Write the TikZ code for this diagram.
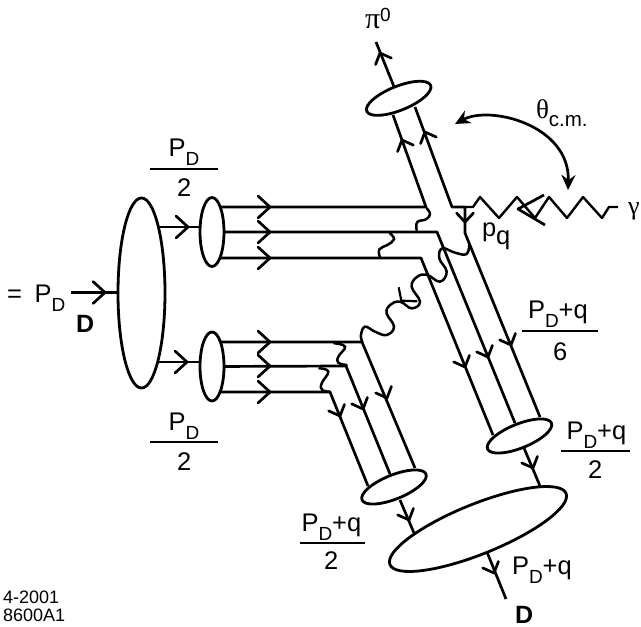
\documentclass[tikz,border=0pt]{standalone}
\usepackage{fontspec}
\setmainfont{Liberation Sans}
\newfontfamily\grk{Liberation Serif}
\usetikzlibrary{shapes.geometric,arrows.meta,backgrounds}
\newcommand{\mainf}{\fontsize{25.5}{28}\selectfont}
\newcommand{\subf}{\fontsize{19}{20}\selectfont}
\newcommand{\PDx}{P\raisebox{-9pt}{\subf D}}
\newcommand{\PDq}{\PDx+q}
\tikzset{
  x=1pt,y=-1pt,
  ln/.style={line width=2.7pt,line cap=butt,line join=round},
  wig/.style={line width=2.5pt,line cap=round},
  blob/.style={draw,fill=white,ellipse,inner sep=0pt,outer sep=0pt,line width=2.8pt},
  vert/.style={blob,minimum width=24pt,minimum height=69pt},
  tilt/.style={blob,minimum width=69pt,minimum height=24pt,rotate=22},
  lab/.style={anchor=base west,inner sep=0pt,outer sep=0pt,font=\mainf},
  bar/.style={line width=2.7pt},
  chevron/.pic={\draw[ln,line cap=round,miter limit=10] (-12,-11)--(0,0)--(-12,11);},
  chevsmall/.pic={\draw[ln,line cap=round,miter limit=10] (-9,-8.5)--(0,0)--(-9,8.5);}
}
\begin{document}
\begin{tikzpicture}
\useasboundingbox (0,0) rectangle (641,627);
% blobs
\node[blob,minimum width=47pt,minimum height=190pt] (D1) at (141.5,293) {};
\node[vert] (U1) at (212,232) {};
\node[vert] (U2) at (212,366.5) {};
\node[tilt] (M1) at (398.7,98.3) {};
\node[tilt] (M2) at (519.5,436) {};
\node[tilt] (M3) at (394,487) {};
\node[blob,minimum width=190pt,minimum height=50pt,rotate=22] (D2) at (478,529) {};
% endpoints
\coordinate (inp) at (71,292.5);
\coordinate (pio) at (376,42);
\coordinate (fin) at (506,599);
\coordinate (gam) at (618,207);
\coordinate (b1) at (426,207);
\coordinate (b2) at (452,207);
\coordinate (b3) at (465,207);
\coordinate (b4) at (465,233);
\coordinate (c1) at (437,232);
\coordinate (c2) at (421,258);
\coordinate (d1) at (362,342);
\coordinate (d2) at (346,366);
\coordinate (d3) at (330,392);
\begin{scope}[on background layer]
\draw[ln] (inp) -- (D1.center |- inp);
\draw[ln] (141,227) -- (212,227);
\draw[ln] (141,362) -- (212,362);
\draw[ln] (M1) -- (pio);
\draw[ln] (524,448) -- (540,486);
\draw[ln] (400,500) -- (414,533);
\draw[ln] (487,552) -- (fin);
% upper quark lines
\draw[ln] (U1 |- b1) -- (b1) -- (393,115);
\draw[ln] (U1) -- (c1) -- (515,423);
\draw[ln] (U1 |- c2) -- (c2) -- (493,435);
\draw[ln] (415,107) -- (b2) -- (b3) -- (b4) -- (540,417);
% lower quark lines
\draw[ln] (U2 |- d1) -- (d1) -- (415,468);
\draw[ln] (U2) -- (d2) -- (390,474);
\draw[ln] (U2 |- d3) -- (d3) -- (368,486);
\end{scope}
% photon
\draw[ln,line width=2.4pt] (b3) -- (473,207) -- (480,197) -- (499,218) -- (517,197) -- (535,218) -- (549,197) -- (567,218) -- (583,197) -- (602,218) -- (609,207) -- (gam);
\draw[ln] (544,195) -- (518,209) -- (545,225);
% angle arc
\draw[line width=2.7pt,{Stealth[length=15pt,width=14pt]}-{Stealth[length=15pt,width=14pt]}] (455,124) .. controls (490,105) and (570,125) .. (568,190);
% gluons (in the 3x coordinates of the crop)
\begin{scope}[shift={(190,180)},x=0.33333pt,y=-0.33333pt]
\draw[wig] plot[smooth,tension=.75] coordinates {(710,85) (720,102) (708,118) (682,126) (680,150)};
\draw[wig] plot[smooth,tension=.75] coordinates {(600,160) (612,178) (592,195) (568,208) (570,232)};
\draw[wig] plot[smooth,tension=.7] coordinates {(838,190) (830,222) (795,218) (757,205) (748,235) (770,275) (750,305) (712,285) (682,290) (665,320) (690,365) (665,385) (630,365) (600,375) (590,400) (612,440) (590,465) (555,455) (525,440) (513,465) (517,487)};
\draw[ln,line width=2.2pt] (626,322) -- (634,362) -- (682,364);
\draw[wig] plot[smooth,tension=.75] coordinates {(433,490) (465,500) (445,530) (445,548) (470,555)};
\draw[wig] plot[smooth,tension=.75] coordinates {(388,565) (415,575) (395,610) (397,630) (420,635)};
\end{scope}
% arrows
\foreach \px/\py in {105/292.5,188/227,187/362,270/207,270/232,270/258,270/342,270/366,270/392}
  \pic at (\px,\py) {chevron};
\foreach \px/\py in {465/367,488/357,511/345,340/416,363/409,387/398,533/468,409/520,494/573}
  \pic[rotate=-67.7] at (\px,\py) {chevsmall};
\pic[rotate=-90] at (465,222) {chevsmall};
\foreach \px/\py in {380/53,402/140,425/132}
  \pic[rotate=112.3] at (\px,\py) {chevsmall};
% labels
\node[lab] (tpi) at (365,28) {{\fontsize{30}{32}\selectfont\grk π}\raisebox{7pt}{\subf 0}};
\node[lab] (tth) at (536,118) {{\fontsize{27}{30}\selectfont\grk θ}\raisebox{-8pt}{\fontsize{20.5}{22}\selectfont c.m.}};
\node[lab] (tga) at (628,214) {{\fontsize{26}{30}\selectfont\grk γ}};
\node[lab] (tpq) at (482,236) {p\raisebox{-8.5pt}{q}};
\node[lab] (teq) at (7,302) {=};
\node[lab] (tp0) at (34.5,302) {\PDx};
\node[lab,font=\fontsize{25}{28}\selectfont\bfseries] (tD0) at (76,332) {D};
\node[lab,font=\fontsize{25}{28}\selectfont\bfseries] (tD1) at (515,623) {D};
\node[lab] (tp1) at (512,574) {\PDq};
% fractions
\node[lab] (f1n) at (168.5,156) {\PDx};
\draw[bar] (150,169) -- (218,169);
\node[lab] (f1d) at (177,196) {2};
\node[lab] (f2n) at (168.5,430) {\PDx};
\draw[bar] (150,442) -- (218,442);
\node[lab] (f2d) at (177,470) {2};
\node[lab] (f3n) at (528,318) {\PDq};
\draw[bar] (522,331) -- (598,331);
\node[lab] (f3d) at (553,360) {6};
\node[lab] (f4n) at (566.5,439) {\PDq};
\draw[bar] (561,451) -- (630,451);
\node[lab] (f4d) at (588,478) {2};
\node[lab] (f5n) at (301.5,531) {\PDq};
\draw[bar] (300,543) -- (365,543);
\node[lab] (f5d) at (324,569) {2};
\node[lab,font=\fontsize{18}{20}\selectfont] (n1) at (3,603) {4-2001};
\node[lab,font=\fontsize{18}{20}\selectfont] (n2) at (3,621.5) {8600A1};
\end{tikzpicture}
\end{document}
